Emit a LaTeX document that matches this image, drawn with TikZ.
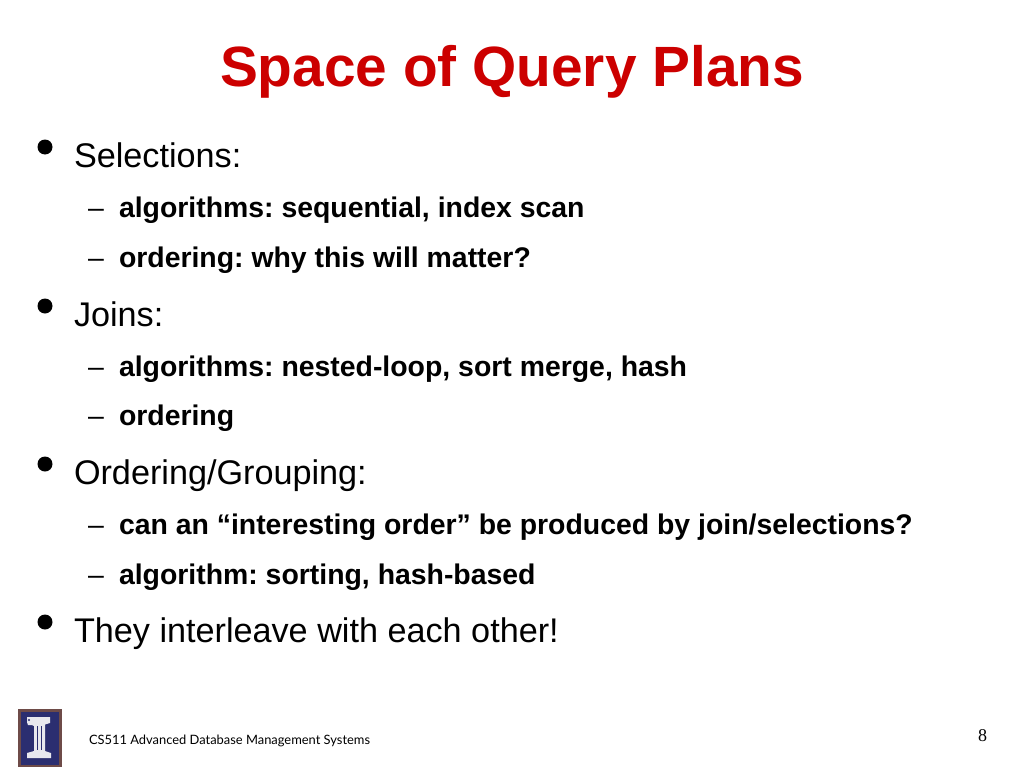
\documentclass[tikz,border=0pt]{standalone}
\usepackage{fontspec}
\setmainfont{Liberation Sans}
\newfontfamily\footfont{Lato}
\newfontfamily\numfont{Liberation Serif}
\definecolor{titlered}{HTML}{CC0000}
\definecolor{logoblue}{HTML}{2B2E70}
\definecolor{logoedge}{HTML}{6E4B48}
\definecolor{logowhite}{HTML}{E8E8EE}
\tikzset{
 txt/.style={anchor=base west,inner sep=0pt,outer sep=0pt,text=black},
 main/.style={txt,font=\fontsize{34.2}{40}\selectfont},
 sub/.style={txt,font=\bfseries\fontsize{28.4}{34}\selectfont},
 dashmark/.style={txt,font=\fontsize{28.4}{34}\selectfont},
 dotmark/.style={circle,fill=black,draw=none,minimum size=15pt,inner sep=0pt},
}
\begin{document}
\frenchspacing
\begin{tikzpicture}[x=1pt,y=-1pt]
\useasboundingbox (0,0) rectangle (1024,768);
\fill[white] (0,0) rectangle (1024,768);
\node[txt,text=titlered,font=\bfseries\fontsize{56.8}{60}\selectfont] (title) at (220,86) {Space of Query Plans};
\node[dotmark] (b1) at (45,147) {};
\node[main] (t1) at (74,167) {Selections:};
\node[dashmark] (d11) at (88,217) {–};
\node[sub] (s11) at (119,217) {algorithms: sequential, index scan};
\node[dashmark] (d12) at (88,267) {–};
\node[sub] (s12) at (119,267) {ordering: why this will matter?};
\node[dotmark] (b2) at (45,306) {};
\node[main] (t2) at (74,326) {Joins:};
\node[dashmark] (d21) at (88,376) {–};
\node[sub] (s21) at (119,376) {algorithms: nested-loop, sort merge, hash};
\node[dashmark] (d22) at (88,425) {–};
\node[sub] (s22) at (119,425) {ordering};
\node[dotmark] (b3) at (45,464) {};
\node[main] (t3) at (74,484) {Ordering/Grouping:};
\node[dashmark] (d31) at (88,534) {–};
\node[sub] (s31) at (119,534) {can an “interesting order” be produced by join/selections?};
\node[dashmark] (d32) at (88,584) {–};
\node[sub] (s32) at (119,584) {algorithm: sorting, hash-based};
\node[dotmark] (b4) at (45,622) {};
\node[main] (t4) at (74,642) {They interleave with each other!};
% logo
\fill[logoblue,draw=logoedge,line width=2.5pt] (19.5,710.5) rectangle (60.5,766);
\fill[logowhite] (27,717) -- (50,717) -- (50,723) -- (45,724.5) -- (45,751) -- (51,753) -- (51,758) -- (27,758) -- (27,753) -- (34,751) -- (34,726) -- (32,725) -- (28,725) -- (27,722) -- cycle;
\fill[logoblue] (29,720) circle (1.2pt);
\fill[logoblue] (37,726) rectangle (38,750);
\fill[logoblue] (41,726) rectangle (42,750);
\node[txt,font=\footfont\fontsize{12.9}{15}\selectfont] (foot) at (89,744.5) {CS511 Advanced Database Management Systems};
\node[txt,font=\numfont\fontsize{18}{20}\selectfont] (page) at (978,741) {8};
\end{tikzpicture}
\end{document}
